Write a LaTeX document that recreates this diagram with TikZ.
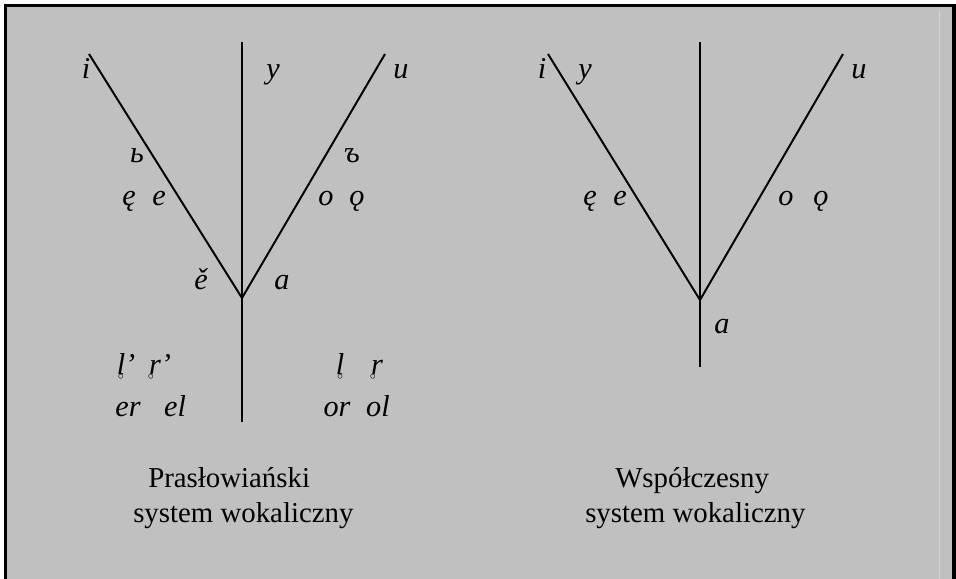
\documentclass[tikz,border=0pt]{standalone}
\usepackage{fontspec}
\setmainfont{Liberation Serif}
\usetikzlibrary{positioning}
\definecolor{panel}{RGB}{192,192,192}
\definecolor{seam}{RGB}{212,212,212}
% small ring under a sonant letter
\newcommand{\rng}[2][0pt]{\ooalign{#2\cr\hidewidth\kern#1\raisebox{-4pt}{\fontsize{8}{8}\selectfont$\circ$}\hidewidth\cr}}

\begin{document}
\begin{tikzpicture}[
    x=0.025cm, y=-0.025cm,
    stem/.style={line width=1.4pt},
    vow/.style={font=\fontsize{21.5}{21.5}\selectfont\itshape, inner sep=0pt, anchor=base},
    captext/.style={font=\fontsize{20.5}{20.5}\selectfont, inner sep=0pt, anchor=base west},
]
\useasboundingbox (0,0) rectangle (956,579);
% === Frame ===
\fill[black] (4,4) rectangle (956,579);
\fill[panel] (7,7) rectangle (952,579);
\draw[seam, line width=0.7pt] (939,11) -- (939,579);
%
% === LEFT: Proto-Slavic ===
\coordinate (jL) at (242,298);
\coordinate (topL) at (242,42);
\coordinate (botL) at (242,422);
\coordinate (frontL) at (89,54);
\coordinate (backL) at (385,54);
\draw[stem] (topL) -- (botL);
\draw[stem] (frontL) -- (jL) -- (backL);
%
\node[vow] (iL) at (86,78) {i};
\node[vow] (yL) at (273,78) {y};
\node[vow] (uL) at (401,78) {u};
\node[vow] (jer1) at (137,162) {ь};
\node[vow] (jer2) at (352,162) {ъ};
\foreach \n/\x/\t in {enL/129/ę, eL/159/e, oL/326/o, onL/357/ǫ} {
    \node[vow] (\n) at (\x,205) {\t};
}
\node[vow] (jat) at (201,289) {ě};
\node[vow] (aL) at (282,289) {a};
% sonants
\node[vow] (lsoft) at (126,374) {\rng{l}’};
\node[vow] (rsoft) at (160,374) {\rng[-6pt]{r}’};
\node[vow] (lhard) at (340,374) {\rng{l}};
\node[vow] (rhard) at (377,374) {\rng[-6pt]{r}};
\foreach \n/\x/\t in {er/128/er, el/175/el, or/337/or, ol/378/ol} {
    \node[vow] (\n) at (\x,416) {\t};
}
%
% === RIGHT: modern ===
\coordinate (jR) at (700,300);
\coordinate (topR) at (700,42);
\coordinate (botR) at (700,367);
\coordinate (frontR) at (548,54);
\coordinate (backR) at (843,54);
\draw[stem] (topR) -- (botR);
\draw[stem] (frontR) -- (jR) -- (backR);
%
\node[vow] (iR) at (542,78) {i};
\node[vow] (yR) at (585,78) {y};
\node[vow] (uR) at (859,78) {u};
\foreach \n/\x/\t in {enR/590/ę, eR/620/e, oR/786/o, onR/821/ǫ} {
    \node[vow] (\n) at (\x,205) {\t};
}
\node[vow] (aR) at (722,333) {a};
%
% === Captions ===
\node[captext] (capL1) at (148,487) {Prasłowiański};
\node[captext] (capL2) at (133,522) {system wokaliczny};
\node[captext] (capR1) at (615,487) {Współczesny};
\node[captext] (capR2) at (585,522) {system wokaliczny};
\end{tikzpicture}
\end{document}
